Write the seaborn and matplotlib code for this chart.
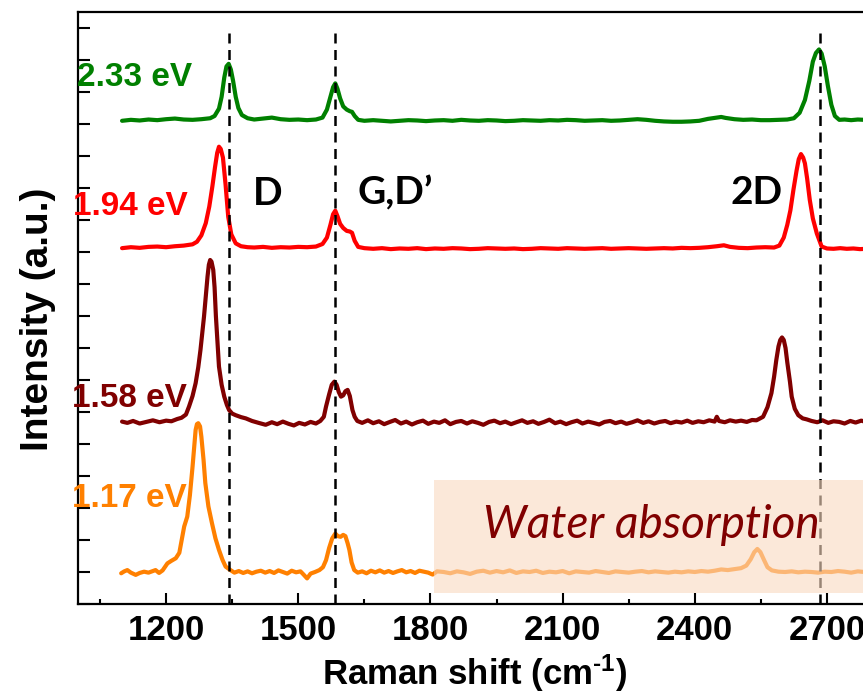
import pandas as pd
import seaborn as sns
import matplotlib.pyplot as plt
from matplotlib.patches import Rectangle
from matplotlib.ticker import MultipleLocator

# ---- data (y in offset intensity units, 1 unit = 1 y tick) ----
series_labels = ['2.33 eV', '1.94 eV', '1.58 eV', '1.17 eV']
series_colors = ['#008000', '#ff0000', '#800000', '#ff8000']

shift_233 = [1100, 1120, 1140, 1160, 1180, 1200, 1220, 1240, 1260, 1280, 1300, 1310, 1320, 1326, 1332,
             1337, 1342, 1347, 1352, 1358, 1364, 1372, 1385, 1400, 1420, 1440, 1460, 1480, 1500, 1520,
             1540, 1555, 1565, 1573, 1579, 1584, 1589, 1595, 1602, 1610, 1617, 1622, 1628, 1636, 1650,
             1670, 1690, 1710, 1730, 1750, 1770, 1790, 1810, 1830, 1850, 1870, 1890, 1910, 1930, 1950,
             1970, 1990, 2010, 2030, 2050, 2070, 2090, 2110, 2130, 2150, 2170, 2190, 2210, 2230, 2250,
             2270, 2290, 2310, 2330, 2350, 2370, 2390, 2410, 2430, 2450, 2460, 2470, 2490, 2510, 2530,
             2550, 2570, 2590, 2610, 2625, 2638, 2650, 2660, 2668, 2675, 2682, 2688, 2695, 2702, 2710,
             2718, 2728, 2740, 2755, 2770, 2785, 2800]
inten_233 = [15.10, 15.13, 15.11, 15.14, 15.12, 15.15, 15.17, 15.14, 15.13, 15.15, 15.18, 15.25, 15.48, 15.85, 16.45,
             16.80, 16.88, 16.70, 16.35, 15.85, 15.50, 15.28, 15.18, 15.14, 15.17, 15.20, 15.15, 15.13, 15.14, 15.12,
             15.14, 15.20, 15.45, 15.85, 16.15, 16.27, 16.10, 15.80, 15.55, 15.45, 15.40, 15.38, 15.25, 15.13, 15.10,
             15.12, 15.10, 15.08, 15.10, 15.12, 15.11, 15.09, 15.11, 15.12, 15.10, 15.13, 15.11, 15.10, 15.12, 15.11,
             15.09, 15.10, 15.12, 15.11, 15.10, 15.12, 15.11, 15.13, 15.12, 15.10, 15.11, 15.12, 15.10, 15.11, 15.13,
             15.15, 15.13, 15.10, 15.08, 15.07, 15.07, 15.08, 15.10, 15.16, 15.20, 15.22, 15.19, 15.15, 15.13, 15.14,
             15.12, 15.12, 15.13, 15.14, 15.18, 15.35, 15.75, 16.35, 16.95, 17.22, 17.33, 17.20, 16.80, 16.20, 15.60,
             15.25, 15.13, 15.14, 15.12, 15.14, 15.13, 15.12]

shift_194 = [1100, 1120, 1140, 1160, 1180, 1200, 1220, 1240, 1260, 1270, 1280, 1290, 1298, 1305, 1311,
             1316, 1320, 1324, 1329, 1335, 1341, 1348, 1358, 1370, 1385, 1400, 1420, 1440, 1460, 1480,
             1500, 1520, 1540, 1555, 1565, 1573, 1579, 1584, 1589, 1595, 1602, 1610, 1617, 1622, 1628,
             1636, 1650, 1670, 1690, 1710, 1730, 1750, 1770, 1790, 1810, 1830, 1850, 1870, 1890, 1910,
             1930, 1950, 1970, 1990, 2010, 2030, 2050, 2070, 2090, 2110, 2130, 2150, 2170, 2190, 2210,
             2230, 2250, 2270, 2290, 2310, 2330, 2350, 2370, 2390, 2410, 2430, 2450, 2466, 2480, 2500,
             2520, 2540, 2560, 2580, 2592, 2602, 2610, 2617, 2624, 2631, 2636, 2641, 2646, 2650, 2655,
             2661, 2668, 2677, 2688, 2700, 2715, 2730, 2745, 2760, 2775, 2790, 2800]
inten_194 = [11.12, 11.15, 11.13, 11.16, 11.17, 11.15, 11.18, 11.20, 11.24, 11.32, 11.52, 11.90, 12.42, 13.05, 13.65,
             14.10, 14.29, 14.22, 13.95, 13.10, 12.10, 11.55, 11.27, 11.18, 11.15, 11.14, 11.16, 11.13, 11.15, 11.14,
             11.16, 11.15, 11.17, 11.25, 11.45, 11.85, 12.18, 12.29, 12.12, 11.88, 11.75, 11.66, 11.64, 11.60, 11.35,
             11.16, 11.12, 11.10, 11.12, 11.09, 11.11, 11.10, 11.12, 11.09, 11.11, 11.10, 11.12, 11.11, 11.09, 11.10,
             11.12, 11.11, 11.10, 11.11, 11.09, 11.10, 11.12, 11.11, 11.10, 11.12, 11.11, 11.10, 11.11, 11.12, 11.10,
             11.11, 11.12, 11.11, 11.10, 11.11, 11.12, 11.11, 11.13, 11.12, 11.13, 11.15, 11.18, 11.21, 11.16, 11.13,
             11.12, 11.14, 11.15, 11.14, 11.20, 11.45, 11.85, 12.30, 12.95, 13.54, 13.90, 14.06, 13.95, 13.77, 13.30,
             12.63, 12.05, 11.58, 11.17, 11.11, 11.10, 11.12, 11.10, 11.11, 11.09, 11.10, 11.11]

shift_158 = [1100, 1112, 1125, 1140, 1155, 1170, 1185, 1200, 1212, 1225, 1235, 1245, 1252, 1260, 1267,
             1273, 1278, 1282, 1286, 1290, 1294, 1297, 1300, 1303, 1307, 1310, 1313, 1317, 1320, 1326,
             1332, 1338, 1343, 1350, 1358, 1370, 1381, 1395, 1410, 1426, 1440, 1452, 1465, 1478, 1490,
             1502, 1515, 1528, 1540, 1550, 1558, 1563, 1570, 1576, 1582, 1587, 1592, 1597, 1602, 1607,
             1612, 1617, 1623, 1628, 1634, 1645, 1658, 1670, 1683, 1695, 1708, 1720, 1733, 1745, 1758,
             1770, 1783, 1795, 1808, 1820, 1833, 1845, 1858, 1870, 1883, 1895, 1908, 1920, 1933, 1945,
             1958, 1970, 1983, 1995, 2008, 2020, 2033, 2045, 2058, 2070, 2083, 2095, 2108, 2120, 2133,
             2145, 2158, 2170, 2183, 2195, 2208, 2220, 2233, 2245, 2258, 2270, 2283, 2295, 2308, 2320,
             2333, 2345, 2358, 2370, 2383, 2395, 2408, 2420, 2433, 2445, 2450, 2455, 2468, 2480, 2493,
             2505, 2518, 2530, 2540, 2555, 2565, 2574, 2580, 2585, 2590, 2594, 2598, 2602, 2606, 2610,
             2616, 2620, 2627, 2635, 2645, 2654, 2665, 2678, 2690, 2703, 2715, 2728, 2740, 2753, 2765,
             2778, 2790, 2800]
inten_158 = [5.70, 5.66, 5.72, 5.64, 5.69, 5.74, 5.68, 5.73, 5.71, 5.78, 5.82, 5.92, 6.17, 6.50, 6.90,
             7.40, 7.94, 8.45, 8.98, 9.60, 10.23, 10.60, 10.75, 10.70, 10.44, 9.90, 9.00, 8.10, 7.42, 6.85,
             6.48, 6.22, 6.06, 5.95, 5.90, 5.84, 5.80, 5.72, 5.66, 5.60, 5.68, 5.62, 5.70, 5.63, 5.58,
             5.66, 5.61, 5.69, 5.64, 5.72, 5.85, 6.17, 6.55, 6.85, 6.95, 6.85, 6.62, 6.48, 6.52, 6.65,
             6.69, 6.50, 6.06, 5.85, 5.72, 5.66, 5.74, 5.65, 5.71, 5.62, 5.69, 5.75, 5.64, 5.70, 5.61,
             5.68, 5.73, 5.63, 5.70, 5.66, 5.74, 5.62, 5.69, 5.72, 5.64, 5.71, 5.66, 5.60, 5.69, 5.73,
             5.65, 5.70, 5.62, 5.68, 5.74, 5.66, 5.71, 5.63, 5.69, 5.76, 5.65, 5.70, 5.62, 5.68, 5.73,
             5.64, 5.70, 5.66, 5.61, 5.69, 5.72, 5.65, 5.70, 5.63, 5.68, 5.74, 5.66, 5.71, 5.64, 5.69,
             5.72, 5.65, 5.70, 5.67, 5.73, 5.66, 5.71, 5.68, 5.74, 5.70, 5.85, 5.72, 5.68, 5.74, 5.70,
             5.73, 5.69, 5.75, 5.74, 5.85, 6.15, 6.59, 7.10, 7.62, 8.05, 8.25, 8.33, 8.25, 8.00, 7.55,
             6.95, 6.48, 6.10, 5.90, 5.80, 5.77, 5.72, 5.68, 5.74, 5.66, 5.71, 5.69, 5.64, 5.72, 5.67,
             5.73, 5.68, 5.71]

shift_117 = [1098, 1105, 1112, 1120, 1131, 1140, 1150, 1160, 1170, 1176, 1184, 1192, 1203, 1212, 1222,
             1230, 1236, 1241, 1248, 1254, 1260, 1264, 1267, 1270, 1273, 1277, 1280, 1285, 1289, 1296,
             1304, 1312, 1320, 1328, 1335, 1346, 1355, 1365, 1375, 1385, 1395, 1405, 1415, 1425, 1435,
             1445, 1455, 1465, 1475, 1485, 1495, 1505, 1512, 1520, 1528, 1538, 1548, 1556, 1563, 1570,
             1577, 1584, 1590, 1596, 1602, 1607, 1612, 1616, 1621, 1627, 1635, 1645, 1655, 1665, 1675,
             1685, 1695, 1705, 1715, 1725, 1735, 1745, 1755, 1765, 1775, 1785, 1795, 1805, 1815, 1830,
             1845, 1860, 1875, 1890, 1905, 1920, 1935, 1950, 1965, 1980, 1995, 2010, 2025, 2040, 2055,
             2070, 2085, 2100, 2115, 2130, 2145, 2160, 2175, 2190, 2205, 2220, 2235, 2250, 2265, 2280,
             2295, 2310, 2325, 2340, 2355, 2370, 2385, 2400, 2415, 2430, 2445, 2460, 2475, 2490, 2505,
             2517, 2527, 2535, 2542, 2549, 2557, 2565, 2575, 2590, 2605, 2620, 2635, 2650, 2665, 2680,
             2695, 2710, 2725, 2740, 2755, 2770, 2785, 2800]
inten_117 = [0.96, 1.02, 1.06, 0.98, 0.91, 0.97, 1.01, 0.98, 1.03, 1.06, 0.97, 1.05, 1.27, 1.35, 1.43,
             1.60, 2.05, 2.42, 2.73, 3.40, 4.29, 4.95, 5.44, 5.62, 5.65, 5.55, 5.23, 4.50, 3.78, 3.05,
             2.53, 2.05, 1.69, 1.38, 1.17, 1.06, 0.98, 1.03, 0.97, 1.02, 0.96, 1.01, 1.04, 0.98, 1.03,
             0.97, 1.05, 1.00, 0.95, 1.04, 0.99, 1.02, 0.92, 0.80, 0.95, 1.00, 1.06, 1.15, 1.37, 1.75,
             2.05, 2.20, 2.12, 2.10, 2.16, 2.12, 1.90, 1.69, 1.30, 1.06, 0.98, 1.02, 0.96, 1.04, 0.99,
             1.05, 0.98, 1.03, 0.97, 1.02, 1.06, 0.99, 1.03, 0.97, 1.04, 1.01, 0.98, 0.92, 1.02, 1.00,
             0.96, 1.02, 0.99, 0.94, 1.01, 1.04, 0.98, 1.03, 0.99, 1.05, 0.97, 1.02, 1.00, 1.04, 0.97,
             1.01, 0.99, 1.03, 0.96, 1.02, 1.00, 0.98, 1.03, 1.00, 0.97, 1.02, 1.00, 0.98, 1.01, 1.03,
             0.99, 1.02, 1.00, 0.98, 1.01, 0.99, 1.02, 1.00, 1.03, 1.01, 1.04, 1.08, 1.06, 1.09, 1.12,
             1.20, 1.40, 1.62, 1.72, 1.62, 1.38, 1.15, 1.05, 1.01, 1.00, 1.02, 0.99, 1.01, 1.00, 0.98,
             1.01, 1.00, 1.03, 1.01, 0.98, 1.02, 1.00, 1.01]

# label anchor points (right edge / baseline) for each excitation energy
label_x = [1259, 1248, 1246, 1246]
label_y = [16.19, 12.16, 6.17, 3.04]

peak_positions = [1343, 1584, 2684]
peak_names = ['D', 'G,D\u2019', '2D']
peak_name_x = [1430, 1720, 2541]
peak_name_y = [12.47, 12.47, 12.5]

water_span = (1809, 0.34, 3.875)   # x start, y bottom, y top
water_text_pos = (2302, 2.06)

# ---- tidy frame ----
frames = []
for lab, xs, ys in zip(series_labels,
                       [shift_233, shift_194, shift_158, shift_117],
                       [inten_233, inten_194, inten_158, inten_117]):
    frames.append(pd.DataFrame({'shift': xs, 'intensity': ys, 'energy': lab}))
df = pd.concat(frames, ignore_index=True)

sns.set_theme(style='ticks')
plt.rcParams['font.family'] = ['Liberation Sans', 'DejaVu Sans']
plt.rcParams['mathtext.fontset'] = 'custom'
plt.rcParams['mathtext.rm'] = 'Liberation Sans:bold'
plt.rcParams['mathtext.it'] = 'Liberation Sans:bold'
plt.rcParams['mathtext.bf'] = 'Liberation Sans:bold'
for key in ['text.color', 'axes.labelcolor', 'xtick.color', 'ytick.color', 'axes.edgecolor']:
    plt.rcParams[key] = 'black'

fig = plt.figure(figsize=(8.63, 6.98), dpi=100)
ax = fig.add_axes([78 / 863, 94 / 698, 793 / 863, 592 / 698])

sns.lineplot(data=df, x='shift', y='intensity', hue='energy', hue_order=series_labels,
             palette=dict(zip(series_labels, series_colors)), sort=False, estimator=None,
             linewidth=3.0, legend=False, ax=ax, zorder=2)

ax.vlines(peak_positions, 0, 17.84, colors='black', linewidth=1.8,
          linestyles=(0, (4, 2.6)), zorder=3)

x0, yb, yt = water_span
ax.add_patch(Rectangle((x0, yb), 3000 - x0, yt - yb, facecolor=(250 / 255, 218 / 255, 193 / 255),
                       alpha=0.61, edgecolor='none', zorder=4))
ax.text(*water_text_pos, 'Water absorption', family='Lato', style='italic', fontsize=33,
        color='#800000', ha='center', va='baseline', zorder=5)

for lab, col, lx, ly in zip(series_labels, series_colors, label_x, label_y):
    ax.text(lx, ly, lab, color=col, fontsize=24, fontweight='bold', ha='right', va='baseline', zorder=6)

for name, px, py in zip(peak_names, peak_name_x, peak_name_y):
    ax.text(px, py, name, family='Lato', fontweight='bold', fontsize=28, color='black',
            ha='center', va='baseline', zorder=6)

ax.set_xlim(1000, 2800)
ax.set_ylim(0, 18.5)
ax.xaxis.set_major_locator(MultipleLocator(300))
ax.xaxis.set_minor_locator(MultipleLocator(150))
ax.yaxis.set_major_locator(MultipleLocator(1))
ax.set_yticklabels([])
ax.tick_params(axis='both', which='both', direction='in', width=1.5, color='black', labelcolor='black')
ax.tick_params(axis='x', which='major', length=8, pad=7, labelsize=25)
ax.tick_params(axis='x', which='minor', length=3.6)
ax.tick_params(axis='y', which='major', length=8.6, left=True, right=False)
for lbl in ax.get_xticklabels():
    lbl.set_fontweight('bold')
for side in ['left', 'top', 'bottom', 'right']:
    ax.spines[side].set_linewidth(1.6)
    ax.spines[side].set_color('black')

ax.set_xlabel(r'Raman shift (cm$^{\text{-}1}$)', fontsize=25, fontweight='bold', labelpad=4,
              color='black')
ax.set_ylabel('Intensity (a.u.)', fontsize=28, fontweight='bold', va='center', color='black')
ax.yaxis.set_label_coords(-0.05, 0.481)

fig.savefig('out.png', dpi=100)
